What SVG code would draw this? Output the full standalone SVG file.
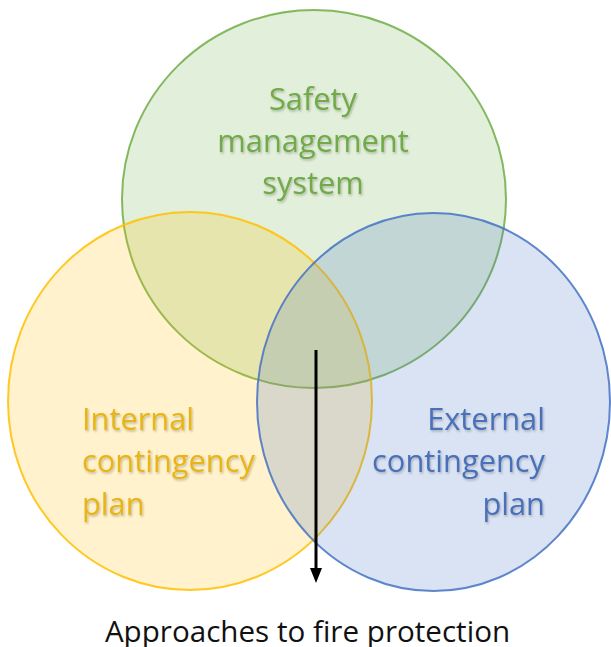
<svg xmlns="http://www.w3.org/2000/svg" width="611" height="647" viewBox="0 0 611 647">
<defs>
<style>
.lbl{font-family:"Open Sans",Lato,"Liberation Sans",sans-serif;font-size:30.8px;}
.g{fill:#6faa48;}
.y{fill:#e9b417;}
.b{fill:#4a70b8;}
.cap{font-family:"Open Sans",Lato,"Liberation Sans",sans-serif;font-size:29.6px;fill:#111;}
</style>
<filter id="sh" x="-10%" y="-10%" width="120%" height="130%">
<feDropShadow dx="1" dy="1.5" stdDeviation="1" flood-color="#000" flood-opacity="0.25"/>
</filter>
</defs>
<rect width="611" height="647" fill="#fff"/>
<g id="safety">
<ellipse cx="314" cy="199" rx="192" ry="189" fill="#70ad47" fill-opacity="0.2" stroke="#70ad47" stroke-opacity="0.85" stroke-width="2"/>
</g>
<g id="internal">
<ellipse cx="190" cy="401" rx="182" ry="189" fill="#ffc000" fill-opacity="0.2" stroke="#ffc000" stroke-opacity="0.85" stroke-width="2"/>
</g>
<g id="external">
<ellipse cx="433.5" cy="402" rx="176.5" ry="189" fill="#4472c4" fill-opacity="0.2" stroke="#4472c4" stroke-opacity="0.85" stroke-width="2"/>
</g>
<g id="labels" filter="url(#sh)">
<text class="lbl g" text-anchor="middle"><tspan x="313" y="110">Safety</tspan><tspan x="313" y="152">management</tspan><tspan x="313" y="194">system</tspan></text>
<text class="lbl y"><tspan x="82" y="430">Internal</tspan><tspan x="82" y="472">contingency</tspan><tspan x="82" y="515">plan</tspan></text>
<text class="lbl b" text-anchor="end"><tspan x="545" y="430">External</tspan><tspan x="545" y="472">contingency</tspan><tspan x="545" y="515">plan</tspan></text>
</g>
<g id="connectors">
<line x1="316" y1="350" x2="316" y2="570" stroke="#000" stroke-width="3"/>
<polygon points="310,568 322,568 316,583" fill="#000"/>
</g>
<g id="caption">
<text class="cap" x="307.5" y="642" text-anchor="middle">Approaches to fire protection</text>
</g>
</svg>
